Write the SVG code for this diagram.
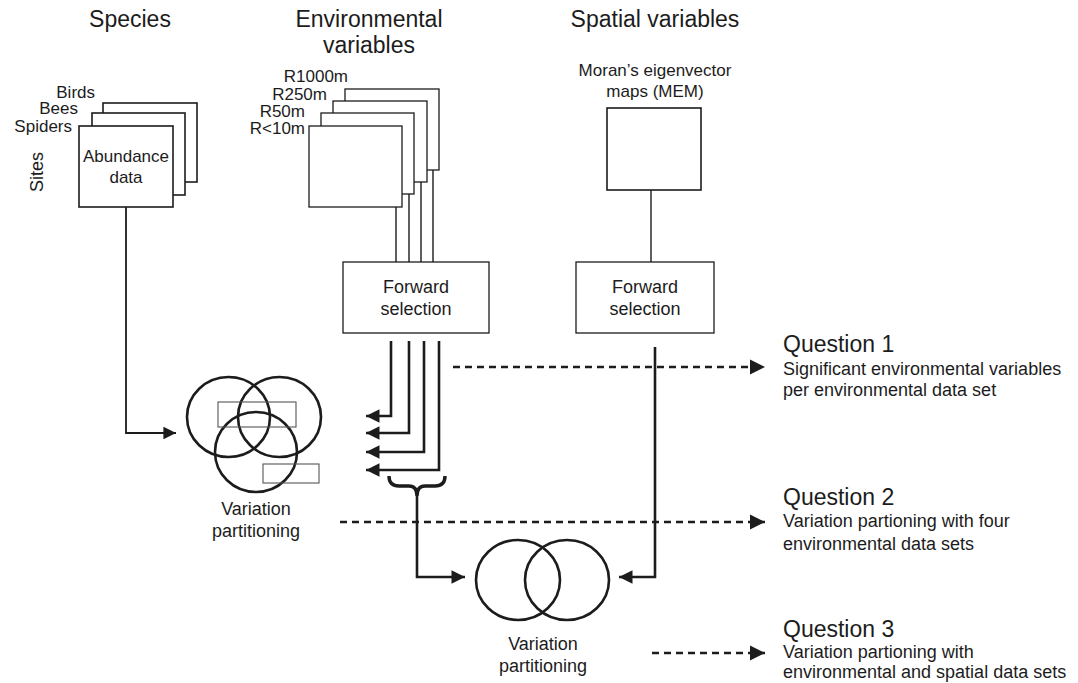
<svg xmlns="http://www.w3.org/2000/svg" width="1078" height="683" viewBox="0 0 1078 683">
<style>
text{font-family:"Liberation Sans",Arial,sans-serif;fill:#1c1c1c}
.h{font-size:23px}
.b{font-size:18px}
.s{font-size:17px}
.l{font-size:17px}
.m{text-anchor:middle}
.e{text-anchor:end}
.box{fill:#fff;stroke:#1c1c1c;stroke-width:1.6}
.thin{fill:#fff;stroke:#1c1c1c;stroke-width:1.3}
.ln{fill:none;stroke:#1c1c1c;stroke-width:1.4}
.ar{fill:none;stroke:#1c1c1c;stroke-width:2.6}
.dash{fill:none;stroke:#1c1c1c;stroke-width:2.5;stroke-dasharray:7 5}
.venn{fill:none;stroke:#1c1c1c;stroke-width:2.6}
.rc{fill:none;stroke:#555;stroke-width:1.1}
</style>
<defs>
<marker id="ah" viewBox="0 0 10 10" refX="10" refY="5" markerWidth="5.2" markerHeight="5.2" orient="auto" markerUnits="strokeWidth"><path d="M0,0 L10,5 L0,10 Z" fill="#1c1c1c"/></marker>
<marker id="ahs" viewBox="0 0 10 10" refX="10" refY="5" markerWidth="7" markerHeight="7" orient="auto" markerUnits="strokeWidth"><path d="M0,0 L10,5 L0,10 Z" fill="#1c1c1c"/></marker>
<marker id="aq" viewBox="0 0 10 10" refX="10" refY="5" markerWidth="6.2" markerHeight="6.4" orient="auto" markerUnits="strokeWidth"><path d="M0,0 L10,5 L0,10 Z" fill="#1c1c1c"/></marker>
</defs>

<g id="headers">
<text class="h m" x="130" y="27">Species</text>
<text class="h m" x="369" y="27">Environmental</text>
<text class="h m" x="369" y="53">variables</text>
<text class="h m" x="655" y="27">Spatial variables</text>
</g>

<g id="species-data">
<rect class="box" x="103" y="103" width="94" height="79"/>
<rect class="box" x="92" y="113" width="93" height="82"/>
<rect class="box" x="79" y="126" width="94" height="81"/>
<text class="l e" x="95" y="98">Birds</text>
<text class="l e" x="78" y="114">Bees</text>
<text class="l e" x="72" y="132">Spiders</text>
<text class="b m" transform="translate(43,172) rotate(-90)">Sites</text>
<text class="s m" x="126" y="162">Abundance</text>
<text class="s m" x="126" y="183">data</text>
</g>

<g id="environmental-data">
<rect class="thin" x="345" y="89" width="94" height="81"/>
<rect class="thin" x="333" y="101" width="94" height="81"/>
<rect class="thin" x="321" y="113" width="93" height="81"/>
<rect class="thin" x="309" y="126" width="93" height="81"/>
<text class="l e" x="348" y="82">R1000m</text>
<text class="l e" x="327" y="100">R250m</text>
<text class="l e" x="305" y="117">R50m</text>
<text class="l e" x="305" y="134">R&lt;10m</text>
</g>

<g id="spatial-data">
<text class="s m" x="655" y="76">Moran’s eigenvector</text>
<text class="s m" x="655" y="97">maps (MEM)</text>
<rect class="box" x="607" y="108" width="94" height="82"/>
</g>

<g id="forward-env">
<rect class="thin" x="343" y="262" width="146" height="71"/>
<text class="b m" x="416" y="293">Forward</text>
<text class="b m" x="416" y="315">selection</text>
</g>

<g id="forward-spatial">
<rect class="thin" x="576" y="262" width="138" height="71"/>
<text class="b m" x="645" y="293">Forward</text>
<text class="b m" x="645" y="315">selection</text>
</g>

<g id="venn-left">
<ellipse class="venn" cx="228.5" cy="417" rx="41.5" ry="40"/>
<ellipse class="venn" cx="279.5" cy="417" rx="41.5" ry="40"/>
<ellipse class="venn" cx="256" cy="452" rx="41" ry="40"/>
<rect class="rc" x="218" y="402" width="78" height="25"/>
<rect class="rc" x="263" y="464" width="56" height="19"/>
<text class="b m" x="256" y="515">Variation</text>
<text class="b m" x="256" y="537">partitioning</text>
</g>

<g id="venn-bottom">
<ellipse class="venn" cx="518" cy="580" rx="42" ry="40"/>
<ellipse class="venn" cx="567" cy="580" rx="42" ry="40"/>
<text class="b m" x="543" y="650">Variation</text>
<text class="b m" x="543" y="672">partitioning</text>
</g>

<g id="questions">
<text class="h" x="783" y="352">Question 1</text>
<text class="b" x="783" y="375">Significant environmental variables</text>
<text class="b" x="783" y="396">per environmental data set</text>
<text class="h" x="783" y="505">Question 2</text>
<text class="b" x="783" y="527">Variation partioning with four</text>
<text class="b" x="783" y="550">environmental data sets</text>
<text class="h" x="783" y="637">Question 3</text>
<text class="b" x="783" y="658">Variation partioning with</text>
<text class="b" x="783" y="678">environmental and spatial data sets</text>
</g>

<g id="connectors">
<path class="ln" d="M396,207 V262 M409,194 V262 M421,182 V262 M433,170 V262"/>
<path class="ln" d="M651,190 V262"/>
<path class="ar" d="M126,207 V433 H176" marker-end="url(#ahs)" style="stroke-width:1.8"/>
<path class="ar" d="M391,341 V416 H366" marker-end="url(#ah)"/>
<path class="ar" d="M409,341 V433 H366" marker-end="url(#ah)"/>
<path class="ar" d="M424,341 V452 H366" marker-end="url(#ah)"/>
<path class="ar" d="M439,341 V470 H366" marker-end="url(#ah)"/>
<path class="ar" d="M389,476 Q389,486 399,486 L409,486 Q417,486 417,496 Q417,486 425,486 L435,486 Q445,486 445,476" style="stroke-width:3.4"/>
<path class="ar" d="M417,496 V577 H465" marker-end="url(#ah)"/>
<path class="ar" d="M655,347 V577 H619" marker-end="url(#ah)"/>
<path class="dash" d="M453,367 H765" marker-end="url(#aq)"/>
<path class="dash" d="M340,522 H765" marker-end="url(#aq)"/>
<path class="dash" d="M652,653 H765" marker-end="url(#aq)"/>
</g>
</svg>
